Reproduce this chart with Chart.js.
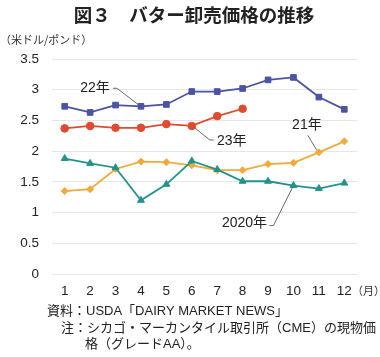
<!DOCTYPE html>
<html><head><meta charset="utf-8">
<script src="https://cdn.jsdelivr.net/npm/chart.js@4"></script>
<style>html,body{margin:0;padding:0;background:#fff}canvas{display:block}</style>
</head><body>
<canvas id="c" width="380" height="357"></canvas>
<script>
const months = ['1','2','3','4','5','6','7','8','9','10','11','12'];
const seriesNames = ['2020年','21年','22年','23年'];
const y2020 = [1.88,1.80,1.73,1.20,1.46,1.84,1.70,1.51,1.51,1.44,1.39,1.48];
const y2021 = [1.35,1.38,1.71,1.83,1.82,1.77,1.69,1.69,1.79,1.81,1.98,2.16];
const y2022 = [2.73,2.63,2.75,2.73,2.76,2.97,2.97,3.02,3.16,3.20,2.88,2.68];
const y2023 = [2.37,2.41,2.38,2.38,2.44,2.41,2.57,2.69,null,null,null,null];
const yTicks = [0,0.5,1,1.5,2,2.5,3,3.5];

const JP = '"Noto Sans CJK JP", "Liberation Sans", sans-serif';
const MIX = '"Liberation Sans", "Noto Sans CJK JP", sans-serif';
const NUM = '"Liberation Sans", "Noto Sans CJK JP", sans-serif';

const textPlugin = {
  id: 'texts',
  afterDraw(chart) {
    const ctx = chart.ctx;
    ctx.save();
    ctx.fillStyle = '#222';
    // title
    ctx.font = 'bold 18.5px ' + JP;
    ctx.textAlign = 'center'; ctx.textBaseline = 'middle';
    ctx.fillText('図３　バター卸売価格の推移', 194, 15);
    // unit
    ctx.font = '11px ' + JP;
    ctx.textAlign = 'left';
    ctx.fillStyle = '#333';
    ctx.fillText('（米ドル/ポンド）', 0, 40);
    // month unit
    ctx.font = '11px ' + JP;
    ctx.fillText('（月）', 352, 291);
    // footnotes
    ctx.font = '13px ' + MIX;
    ctx.fillStyle = '#222';
    ctx.fillText('資料：USDA「DAIRY MARKET NEWS」', 47, 311);
    ctx.fillText('注：シカゴ・マーカンタイル取引所（CME）の現物価', 61, 328);
    ctx.fillText('格（グレードAA）。', 85, 344);
    ctx.restore();
  },
  afterDatasetsDraw(chart) {
    const ctx = chart.ctx;
    const pt = (ds, i) => chart.getDatasetMeta(ds).data[i];
    const notes = [
      {ds:2, i:3, text:'22年', tx:-46, ty:-18, line:[[-28,-18],[-24,-18],[-3,-2]]},
      {ds:3, i:5, text:'23年', tx:40, ty:15, line:[[3,2],[18,14],[22,14]]},
      {ds:1, i:10, text:'21年', tx:-12, ty:-27, line:[[-11,-17],[-2,-2]]},
      {ds:0, i:9, text:'2020年', tx:-49, ty:38, line:[[-24,40],[-20,40],[-1,2]]}
    ];
    ctx.save();
    ctx.font = '14px ' + NUM;
    ctx.textAlign = 'center'; ctx.textBaseline = 'middle';
    ctx.strokeStyle = '#444'; ctx.lineWidth = 0.8;
    notes.forEach(n => {
      const p = pt(n.ds, n.i);
      ctx.fillStyle = '#222';
      ctx.fillText(n.text, p.x + n.tx, p.y + n.ty);
      ctx.beginPath();
      n.line.forEach((q, k) => k ? ctx.lineTo(p.x+q[0], p.y+q[1]) : ctx.moveTo(p.x+q[0], p.y+q[1]));
      ctx.stroke();
    });
    ctx.restore();
  }
};

const mk = (label, data, color, style, r) => ({
  label, data, borderColor: color, backgroundColor: color,
  pointStyle: style, pointRadius: r, pointHoverRadius: r,
  pointBorderColor: color, pointBackgroundColor: color, pointBorderWidth: 1,
  borderWidth: 1.8, tension: 0, spanGaps: false
});

new Chart(document.getElementById('c'), {
  type: 'line',
  data: {
    labels: months,
    datasets: [
      mk(seriesNames[0], y2020, '#23928E', 'triangle', 4),
      mk(seriesNames[1], y2021, '#F2A93B', 'rectRot', 3.5),
      mk(seriesNames[2], y2022, '#4B53A3', 'rect', 4),
      mk(seriesNames[3], y2023, '#E04A2E', 'circle', 3.8)
    ]
  },
  options: {
    responsive: false, animation: false, devicePixelRatio: 1,
    layout: { padding: { left: 0, top: 59, right: 23, bottom: 59 } },
    plugins: { legend: { display: false }, title: { display: false }, tooltip: { enabled: false } },
    scales: {
      x: {
        type: 'category', offset: true,
        grid: { display: false, drawTicks: false },
        border: { display: false },
        ticks: { color: '#222', font: { family: NUM, size: 13.5 }, padding: 9, maxRotation: 0, autoSkip: false },
        afterFit: s => { s.height = 24; }
      },
      y: {
        min: 0, max: 3.5,
        afterBuildTicks: s => { s.ticks = yTicks.map(v => ({ value: v })); },
        grid: { color: '#e6e6e6', lineWidth: 1, drawTicks: false },
        border: { display: false },
        ticks: { color: '#222', font: { family: NUM, size: 13.5 }, padding: 13,
                 callback: v => String(v) },
        afterFit: s => { s.width = 52; }
      }
    }
  },
  plugins: [textPlugin]
});
</script>
</body></html>
